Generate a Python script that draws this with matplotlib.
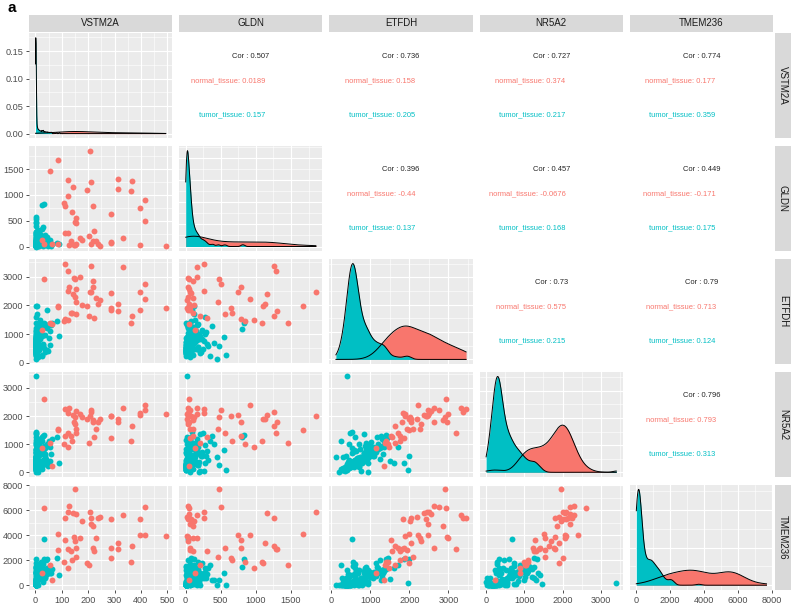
import numpy as np
import matplotlib
matplotlib.use("Agg")
import matplotlib.pyplot as plt
from matplotlib.ticker import FixedLocator, AutoMinorLocator, MultipleLocator, FormatStrFormatter

plt.rcParams['font.family'] = ['Liberation Sans', 'DejaVu Sans']

genes = ['VSTM2A', 'GLDN', 'ETFDH', 'NR5A2', 'TMEM236']
groups = ['normal_tissue', 'tumor_tissue']

# normal tissue samples
vstm2a_normal = [151, 416, 129, 31, 206, 125, 141, 154, 331, 244, 112, 212, 237, 287, 396, 175,
                 212, 219, 87, 396, 416, 494, 146, 169, 231, 112, 150, 312, 366, 154, 219, 287,
                 125, 312, 87, 134, 221, 154, 285, 137, 110, 362, 196, 56, 204, 125, 25, 62]
gldn_normal = [476, 500, 38, 50, 1854, 260, 1156, 50, 165, 14, 260, 1255, 50, 80, 30, 120,
               60, 100, 1665, 745, 910, 15, 38, 165, 100, 790, 40, 1123, 1260, 557, 793, 70,
               1280, 1300, 60, 108, 300, 462, 640, 660, 840, 1083, 1100, 1453, 200, 972, 132, 47]
etfdh_normal = [2915, 2750, 2620, 2930, 2450, 2500, 2380, 2550, 3320, 2190, 3450, 3380, 2040, 2420, 1830, 2020,
                2480, 2860, 1980, 2480, 2210, 1900, 2960, 3000, 2260, 1525, 2300, 2050, 1640, 1700, 2620, 1850,
                3200, 1800, 1950, 1750, 1550, 2100, 1900, 1750, 1450, 1390, 1980, 1380, 1620, 1480, 1150, 1355]
nr5a2_normal = [1960, 2200, 2300, 2600, 2000, 2100, 2050, 2180, 2300, 1900, 2250, 2150, 1800, 2000, 2100, 1950,
                2200, 1850, 1520, 2050, 2400, 2080, 1800, 2060, 1530, 1290, 1700, 1900, 1650, 1400, 1770, 1220,
                1390, 1800, 1550, 1300, 1250, 1550, 2000, 1100, 1000, 1100, 1900, 1030, 1050, 900, 880, 230]
tmem236_normal = [7680, 6290, 6370, 6160, 5840, 5840, 5770, 5710, 5630, 5500, 5370, 5370, 5370, 5320, 5320, 5110,
                  4930, 4720, 4140, 4010, 4010, 3980, 3850, 3800, 3750, 3590, 3540, 3410, 3140, 3010, 3010, 3010,
                  2930, 2930, 2800, 2750, 2750, 2230, 2170, 2040, 1890, 1830, 1760, 1650, 1650, 1360, 1000, 390]

# tumor tissue samples
vstm2a_tumor = [3.6, 0.5, 0.8, 1.0, 1.2, 0.3, 1.5, 2.0, 0.6, 2.5,
                3.8, 1.8, 3.0, 0.9, 2.2, 0.4, 3.4, 1.1, 0.7, 2.8,
                1.4, 0.2, 12.0, 1.6, 0.5, 2.4, 1.9, 0.3, 3.2, 1.3,
                0.8, 2.6, 0.6, 1.7, 35.0, 0.4, 2.1, 1.0, 2.9, 0.9,
                5.5, 4.2, 1.2, 7.0, 0.5, 18.0, 6.2, 1.5, 8.5, 2.0,
                9.5, 1.1, 0.3, 23.0, 3.3, 14.0, 1.4, 0.6, 10.5, 2.3,
                0.7, 40.0, 1.8, 4.5, 0.4, 1.6, 27.0, 2.7, 0.9, 5.0,
                1.3, 0.5, 16.0, 3.1, 3.9, 45.0, 1.9, 1.0, 2.5, 0.8,
                6.8, 0.6, 1.2, 30.0, 2.2, 0.3, 11.0, 1.7, 52.0, 0.9,
                1.5, 20.0, 0.4, 2.8, 1.1, 8.0, 0.7, 38.0, 2.0, 1.4,
                0.5, 1.9, 57.0, 0.8, 3.4, 1.2, 13.0, 0.3, 2.4, 48.0,
                1.0, 0.6, 25.0, 1.6, 3.0, 60.0, 0.9, 2.1, 42.0, 1.3,
                0.4, 31.0, 81.0, 91.0, 31.0, 25.0, 0.5, 1.0, 4.0, 0.3,
                0.6, 1.4, 2.3, 3.6, 0.9, 1.7, 2.9, 3.9, 1.1, 2.0,
                6.0, 15.0, 28.0, 0.7, 2.6, 3.3, 1.3, 34.0, 2.2, 9.0,
                1.0, 3.7, 0.8, 2.4, 19.0, 1.6, 44.0, 3.0, 0.6, 24.0,
                2.7, 1.2, 7.5, 3.5, 55.0, 1.9, 0.9, 12.5, 2.1, 3.8,
                37.0, 1.5, 2.8, 0.7, 21.0, 3.2, 1.8, 50.0, 2.5, 1.1,
                4.8, 2.0, 0.8, 29.0, 3.4, 1.4, 62.0, 2.6, 17.0, 3.1]
gldn_tumor = [5, 12, 20, 8, 35, 3, 45, 18, 60, 25,
              2, 70, 15, 40, 90, 10, 30, 55, 7, 120,
              22, 4, 80, 28, 14, 65, 38, 6, 100, 48,
              16, 75, 9, 33, 140, 11, 52, 24, 85, 19,
              150, 210, 40, 260, 95, 180, 300, 130, 60, 230,
              110, 280, 170, 350, 25, 160, 240, 75, 320, 190,
              400, 30, 450, 50, 13, 200, 62, 270, 8, 115,
              42, 18, 135, 66, 5, 88, 250, 27, 72, 36,
              105, 14, 58, 380, 21, 3, 155, 44, 82, 29,
              68, 175, 9, 37, 125, 50, 17, 220, 6, 95,
              31, 145, 78, 12, 290, 54, 20, 165, 46, 11,
              63, 23, 108, 39, 480, 15, 71, 7, 195, 34,
              25, 40, 75, 60, 830, 800, 575, 120, 50, 540,
              10, 35, 60, 22, 5, 48, 80, 15, 28, 42,
              55, 120, 18, 70, 30, 8, 95, 160, 40, 12,
              26, 65, 4, 110, 38, 20, 75, 50, 14, 200,
              33, 7, 90, 58, 130, 17, 44, 24, 85, 62,
              100, 29, 12, 46, 180, 36, 9, 70, 54, 21,
              140, 40, 19, 66, 3, 88, 52, 31, 240, 27]
etfdh_tumor = [420, 510, 560, 480, 620, 390, 680, 540, 450, 600,
               330, 720, 520, 580, 650, 470, 760, 530, 610, 820,
               440, 360, 900, 570, 500, 700, 590, 410, 850, 630,
               520, 740, 460, 550, 980, 430, 660, 490, 780, 540,
               1050, 350, 1200, 760, 300, 1350, 640, 880, 200, 1100,
               720, 1000, 560, 250, 830, 1300, 1150, 450, 600, 950,
               700, 1250, 120, 520, 1400, 830, 620, 1600, 300, 1700,
               870, 610, 1500, 380, 550, 1850, 470, 680, 1020, 940,
               640, 290, 570, 1280, 720, 400, 1100, 510, 870, 460,
               800, 560, 240, 650, 490, 1150, 590, 380, 720, 530,
               950, 480, 620, 340, 1060, 580, 450, 790, 660, 410,
               530, 690, 270, 860, 600, 1320, 500, 740, 440, 580,
               400, 530, 1450, 930, 1400, 1170, 280, 1980, 1960, 900,
               480, 620, 550, 700, 410, 760, 520, 660, 590, 450,
               980, 1150, 640, 380, 720, 560, 800, 1300, 500, 870,
               430, 610, 540, 690, 1050, 470, 1200, 580, 360, 930,
               650, 520, 750, 600, 1100, 440, 680, 890, 570, 490,
               1250, 530, 610, 460, 1000, 710, 400, 1350, 630, 550,
               740, 580, 420, 960, 660, 510, 1400, 600, 830, 470]
nr5a2_tumor = [180, 260, 310, 220, 350, 150, 420, 290, 240, 380,
               90, 460, 330, 270, 500, 200, 400, 360, 310, 560,
               230, 120, 620, 300, 250, 440, 340, 170, 530, 390,
               280, 470, 210, 320, 660, 190, 410, 260, 480, 300,
               700, 60, 820, 40, 560, 900, 750, 1050, 20, 600,
               380, 980, 250, 1100, 680, 1200, 730, 150, 450, 5,
               1000, 480, 560, 850, 1150, 1350, 280, 330, 100, 900,
               650, 1250, 420, 200, 720, 350, 1400, 270, 1080, 520,
               310, 160, 790, 1300, 240, 80, 640, 370, 950, 430,
               550, 280, 130, 460, 360, 870, 210, 600, 330, 1450,
               740, 300, 400, 180, 580, 260, 1020, 350, 490, 230,
               320, 510, 110, 400, 270, 640, 190, 830, 360, 290,
               3400, 690, 1250, 340, 1320, 1260, 90, 600, 70, 800,
               250, 340, 410, 190, 300, 480, 220, 370, 280, 330,
               600, 820, 450, 170, 390, 260, 520, 950, 310, 700,
               210, 430, 350, 500, 780, 240, 1000, 290, 140, 650,
               380, 270, 540, 320, 900, 200, 460, 620, 300, 360,
               880, 230, 420, 180, 720, 400, 260, 1100, 350, 310,
               560, 330, 160, 850, 440, 280, 1200, 370, 690, 240]
tmem236_tumor = [30, 60, 90, 45, 120, 20, 180, 75, 150, 240,
                 10, 300, 110, 200, 420, 55, 350, 130, 85, 520,
                 70, 25, 1250, 160, 40, 280, 190, 35, 480, 220,
                 95, 380, 50, 140, 650, 65, 260, 105, 450, 80,
                 850, 15, 1100, 600, 250, 1300, 900, 1450, 5, 780,
                 1250, 1050, 330, 1600, 1150, 680, 1800, 95, 1400, 300,
                 420, 2000, 30, 850, 1500, 1000, 1700, 1400, 150, 1650,
                 1350, 600, 500, 190, 1550, 2100, 800, 950, 1000, 1200,
                 300, 40, 110, 420, 200, 15, 800, 70, 1300, 125,
                 175, 1900, 60, 330, 100, 780, 45, 550, 230, 85,
                 140, 270, 950, 35, 600, 210, 700, 20, 360, 1200,
                 115, 50, 620, 165, 400, 1000, 80, 310, 900, 195,
                 200, 3670, 2170, 790, 2070, 1500, 60, 2100, 190, 950,
                 80, 150, 220, 60, 35, 310, 120, 260, 95, 180,
                 650, 1050, 240, 40, 170, 110, 380, 1200, 140, 800,
                 55, 290, 130, 350, 900, 70, 1350, 200, 25, 1000,
                 160, 90, 560, 210, 1100, 50, 330, 700, 125, 270,
                 950, 100, 230, 65, 750, 300, 45, 1150, 190, 135,
                 480, 205, 30, 850, 145, 85, 1300, 250, 600, 115]

# correlation labels for the upper panels, row by row
cor_total = ['0.507', '0.736', '0.727', '0.774', '0.396', '0.457', '0.449', '0.73', '0.79', '0.796']
cor_normal = ['0.0189', '0.158', '0.374', '0.177', '-0.44', '-0.0676', '-0.171', '0.575', '0.713', '0.793']
cor_tumor = ['0.157', '0.205', '0.217', '0.359', '0.137', '0.168', '0.175', '0.215', '0.124', '0.313']

tick_steps = [100, 500, 1000, 1000, 2000]

normal = [np.array(a, float) for a in (vstm2a_normal, gldn_normal, etfdh_normal, nr5a2_normal, tmem236_normal)]
tumor = [np.array(a, float) for a in (vstm2a_tumor, gldn_tumor, etfdh_tumor, nr5a2_tumor, tmem236_tumor)]

RED = '#F8766D'
TEAL = '#00BFC4'
PANEL = '#EBEBEB'
STRIP = '#D9D9D9'


def bw_nrd0(x):
    hi = np.std(x, ddof=1)
    q75, q25 = np.percentile(x, [75, 25])
    lo = min(hi, (q75 - q25) / 1.34)
    if lo == 0:
        lo = hi if hi > 0 else 1.0
    return 0.9 * lo * len(x) ** -0.2


def kde(x, grid):
    bw = bw_nrd0(x)
    z = (grid[:, None] - x[None, :]) / bw
    return np.exp(-0.5 * z ** 2).sum(axis=1) / (len(x) * bw * np.sqrt(2 * np.pi))


W, H = 793, 605
fig = plt.figure(figsize=(W / 100, H / 100), dpi=100)

n = len(genes)
left0, right0 = 29, 773
top0, bottom0 = 33, 590
gap_x, gap_y = 7, 7.5
pw = (right0 - left0 - gap_x * (n - 1)) / n
ph = (bottom0 - top0 - gap_y * (n - 1)) / n


def rect(x, y, w, h):
    return [x / W, 1 - (y + h) / H, w / W, h / H]


limits = []
for k in range(n):
    allv = np.concatenate([normal[k], tumor[k]])
    lo, hi = allv.min(), allv.max()
    pad = 0.05 * (hi - lo)
    limits.append((lo - pad, hi + pad))


def gene_ticks(k):
    lo, hi = limits[k]
    t = np.arange(0, hi + 1, tick_steps[k])
    return t[t >= lo]


def style_panel(ax, row, col, xticks, yticks=None):
    ax.set_facecolor(PANEL)
    for s in ax.spines.values():
        s.set_visible(False)
    ax.xaxis.set_major_locator(FixedLocator(xticks))
    ax.xaxis.set_minor_locator(AutoMinorLocator(2))
    if yticks is not None:
        ax.yaxis.set_major_locator(FixedLocator(yticks))
    ax.yaxis.set_minor_locator(AutoMinorLocator(2))
    ax.grid(which='major', color='white', linewidth=0.8)
    ax.grid(which='minor', color='white', linewidth=0.4)
    ax.set_axisbelow(True)
    ax.tick_params(which='minor', length=0)
    ax.tick_params(which='major', labelsize=6.6, labelcolor='#4D4D4D', color='#333333',
                   length=2.5, width=0.6, pad=1.5,
                   bottom=(row == n - 1), labelbottom=(row == n - 1),
                   left=(col == 0), labelleft=(col == 0))


k_pair = 0
for i in range(n):
    for j in range(n):
        x0 = left0 + j * (pw + gap_x)
        y0 = top0 + i * (ph + gap_y)
        ax = fig.add_axes(rect(x0, y0, pw, ph))
        if i == j:
            lo, hi = limits[j]
            allv = np.concatenate([normal[j], tumor[j]])
            grid = np.linspace(allv.min(), allv.max(), 512)
            dn = kde(normal[j], grid)
            dt = kde(tumor[j], grid)
            for d, c in ((dn, RED), (dt, TEAL)):
                ax.fill_between(grid, 0, d, color=c, linewidth=0)
                ax.plot(grid, d, color='black', linewidth=0.7)
            top = max(dn.max(), dt.max())
            ax.set_xlim(lo, hi)
            ax.set_ylim(-0.05 * top, 1.05 * top)
            style_panel(ax, i, j, gene_ticks(j))
            if i == 0:
                ax.yaxis.set_major_locator(MultipleLocator(0.05))
                ax.yaxis.set_major_formatter(FormatStrFormatter('%.2f'))
        elif i > j:
            ax.scatter(tumor[j], tumor[i], s=18, color=TEAL, linewidths=0, zorder=2)
            ax.scatter(normal[j], normal[i], s=18, color=RED, linewidths=0, zorder=3)
            ax.set_xlim(*limits[j])
            ax.set_ylim(*limits[i])
            style_panel(ax, i, j, gene_ticks(j), gene_ticks(i))
        else:
            ax.set_facecolor('white')
            ax.set_xticks([])
            ax.set_yticks([])
            for s in ax.spines.values():
                s.set_visible(False)
            ax.text(0.5, 0.775, 'Cor : ' + cor_total[k_pair], transform=ax.transAxes,
                    ha='center', va='center', fontsize=5.4, color='#222222')
            ax.text(0.60, 0.545, 'normal_tissue: ' + cor_normal[k_pair], transform=ax.transAxes,
                    ha='right', va='center', fontsize=5.4, color=RED)
            ax.text(0.60, 0.222, 'tumor_tissue: ' + cor_tumor[k_pair], transform=ax.transAxes,
                    ha='right', va='center', fontsize=5.4, color=TEAL)
            k_pair += 1

# strips
for j in range(n):
    x0 = left0 + j * (pw + gap_x)
    sa = fig.add_axes(rect(x0, 15, pw, 17))
    sa.set_facecolor(STRIP)
    sa.set_xticks([]); sa.set_yticks([])
    for s in sa.spines.values():
        s.set_visible(False)
    sa.text(0.5, 0.5, genes[j], ha='center', va='center', fontsize=7, color='#1A1A1A',
            transform=sa.transAxes)
for i in range(n):
    y0 = top0 + i * (ph + gap_y)
    sa = fig.add_axes(rect(775, y0, 16, ph))
    sa.set_facecolor(STRIP)
    sa.set_xticks([]); sa.set_yticks([])
    for s in sa.spines.values():
        s.set_visible(False)
    sa.text(0.5, 0.5, genes[i], ha='center', va='center', fontsize=7, color='#1A1A1A',
            rotation=-90, transform=sa.transAxes)

fig.text(8 / W, 1 - 8 / H, 'a', fontsize=11, fontweight='bold', ha='left', va='center')

fig.savefig('out.png', dpi=100)
